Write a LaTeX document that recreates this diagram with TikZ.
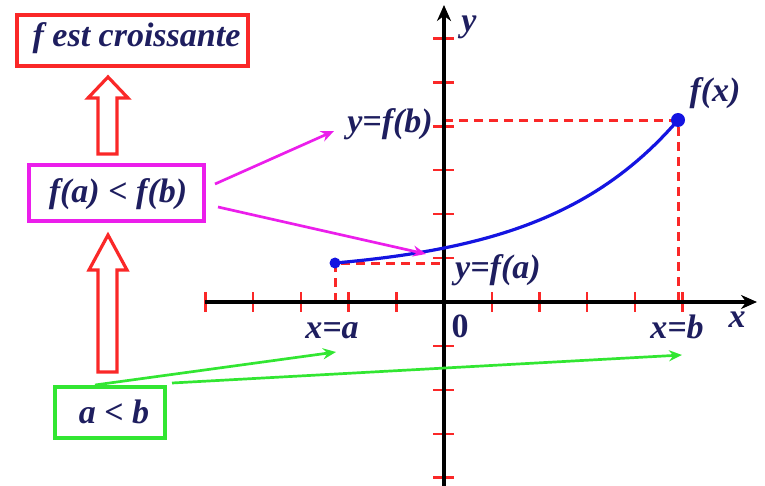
\documentclass[tikz,border=0pt]{standalone}
\usepackage{fontspec}
\setmainfont{Liberation Serif}
\usetikzlibrary{arrows.meta}
\definecolor{txt}{RGB}{30,30,95}
\definecolor{myred}{RGB}{250,40,40}
\definecolor{mymag}{RGB}{235,30,235}
\definecolor{mygreen}{RGB}{50,230,50}
\definecolor{myblue}{RGB}{20,20,225}
\begin{document}
\begin{tikzpicture}[x=1pt,y=-1pt,
  lbl/.style={font=\fontsize{34}{36}\selectfont\bfseries\itshape, text=txt, inner sep=0pt},
  boxnode/.style={draw, line width=3.2pt, inner sep=0pt},
  hollow/.style={draw=myred, line width=3.2pt, line join=miter},
  tickline/.style={draw=myred, line width=2.4pt},
  guide/.style={draw=myred, line width=3pt, dash pattern=on 9pt off 6pt},
  pointer/.style={line width=2.7pt, -{Stealth[length=13pt,width=11pt]}},
  axisline/.style={draw=black, line width=4pt, -{Stealth[length=16pt,width=14pt]}}]
\useasboundingbox (0,0) rectangle (765,486);

% boxes
\node[boxnode, draw=myred, minimum width=231pt, minimum height=51pt] (croiss) at (132.5,40.5) {};
\node[lbl] (croisstxt) at (136.5,38) {f est croissante};
\node[boxnode, draw=mymag, minimum width=175pt, minimum height=56pt] (ineq) at (116.5,193) {};
\node[lbl] (ineqtxt) at (118,194) {f(a) < f(b)};
\node[boxnode, draw=mygreen, minimum width=110pt, minimum height=51pt] (ab) at (110,412.5) {};
\node[lbl, anchor=base] (abtxt) at (114,423) {a < b};

% hollow implication arrows
\draw[hollow] (108,77) -- (128,98) -- (117,98) -- (117,154) -- (98,154) -- (98,98) -- (88,98) -- cycle;
\draw[hollow] (108,235) -- (127,270) -- (117,270) -- (117,372) -- (98,372) -- (98,270) -- (89,270) -- cycle;

% ticks
\foreach \k in {-5,-4,-3,-2,-1,1,2,3,4,5}
  \draw[tickline] (444+47.7*\k,292) -- (444+47.7*\k,312);
\foreach \k in {-4,...,6}
  \draw[tickline] (433,302-43.9*\k) -- (454,302-43.9*\k);

% guides
\draw[guide] (335,302) -- (335,263) -- (444,263);
\draw[guide] (444,121) -- (678,121) -- (678,302);

% axes
\coordinate (xstart) at (205,302);
\coordinate (xend) at (757,302);
\coordinate (ystart) at (444,486);
\coordinate (yend) at (444,5);
\draw[axisline, line width=3.2pt] (xstart) -- (xend);
\draw[axisline] (ystart) -- (yend);

% curve
\draw[myblue, line width=3.2pt, domain=335:678, samples=60]
  plot (\x, {263 - 11.85*(exp(2.57*(\x-335)/343)-1)});
\node[circle, fill=myblue, minimum size=11pt, inner sep=0pt] (pa) at (335,263) {};
\node[circle, fill=myblue, minimum size=14pt, inner sep=0pt] (pb) at (678,120) {};

% labels
\node[lbl] (ylab) at (469,27) {y};
\node[lbl] (xlab) at (737,320) {x};
\node[lbl, anchor=base, font=\fontsize{34}{36}\selectfont\bfseries] (zero) at (460,337) {0};
\node[lbl, anchor=base] (xa) at (332,338) {x=a};
\node[lbl, anchor=base] (xb) at (677,338) {x=b};
\node[lbl, anchor=east] (yfb) at (433,124.5) {y=f(b)};
\node[lbl, anchor=west] (yfa) at (455,270) {y=f(a)};
\node[lbl] (fx) at (715,93) {f(x)};

% pointers
\coordinate (m1s) at (215,184);
\coordinate (m1e) at (334,131);
\coordinate (m2s) at (218,207);
\coordinate (m2e) at (426,254);
\draw[pointer, mymag] (m1s) -- (m1e);
\draw[pointer, mymag] (m2s) -- (m2e);
\coordinate (g1s) at (95,385);
\coordinate (g1e) at (336,352);
\coordinate (g2s) at (172,383);
\coordinate (g2e) at (682,355);
\draw[pointer, mygreen] (g1s) -- (g1e);
\draw[pointer, mygreen] (g2s) -- (g2e);
\end{tikzpicture}
\end{document}
